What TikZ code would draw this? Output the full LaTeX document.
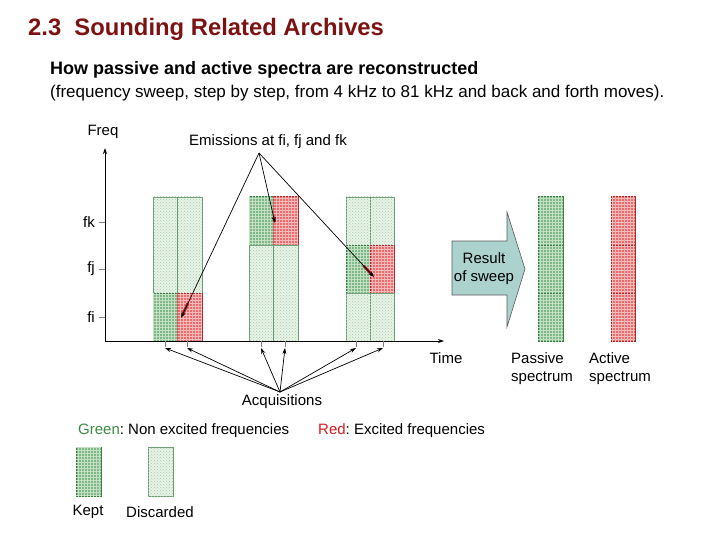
\documentclass[tikz,border=0pt]{standalone}
\usepackage{fontspec}
\setmainfont{Liberation Sans}
\usetikzlibrary{patterns,arrows.meta,calc}
\definecolor{titlered}{RGB}{125,18,18}
\definecolor{gline}{RGB}{55,125,65}
\definecolor{gkeep}{RGB}{125,185,130}
\definecolor{gdisc}{RGB}{232,244,232}
\definecolor{rkeep}{RGB}{238,105,105}
\definecolor{rline}{RGB}{170,40,40}
\definecolor{arrowfill}{RGB}{172,210,205}
\definecolor{greentxt}{RGB}{60,140,70}
\definecolor{redtxt}{RGB}{215,30,30}
\frenchspacing
\begin{document}
\begin{tikzpicture}[x=1pt,y=-1pt,
  kept/.style={fill=gkeep, postaction={pattern=grid, pattern color=white!55!gkeep}, draw=gline, line width=1pt},
  disc/.style={fill=gdisc, postaction={pattern=crosshatch dots, pattern color=gline!45}, draw=gline!75, line width=0.9pt},
  redk/.style={fill=rkeep, postaction={pattern=grid, pattern color=white!55!rkeep}, draw=rline, line width=1pt},
  lbl/.style={font=\fontsize{15}{17}\selectfont, inner sep=0pt},
  arr/.style={-{Stealth[length=6pt,width=4pt]}, line width=0.7pt},
  redmark/.style={draw=rline, line width=2.8pt}
]
\useasboundingbox (0,0) rectangle (720,540);

% titles
\node[anchor=base west, inner sep=0pt, text=titlered, font=\fontsize{23.8}{26}\selectfont\bfseries] (title) at (28,36) {2.3\ \ Sounding Related Archives};
\node[anchor=base west, inner sep=0pt, font=\fontsize{18}{20}\selectfont\bfseries] (sub) at (50,75) {How passive and active spectra are reconstructed};
\node[anchor=base west, inner sep=0pt, font=\fontsize{17}{19}\selectfont] (sub2) at (50,97.5) {(frequency sweep, step by step, from 4 kHz to 81 kHz and back and forth moves).};

% column 1 (fi excited)
\path[disc] (153,197) rectangle (177.5,293);
\path[disc] (177.5,197) rectangle (202,293);
\path[kept] (153,293) rectangle (177.5,341);
\path[redk] (177.5,293) rectangle (202,341);
% column 2 (fk excited)
\path[kept] (249,197) rectangle (273.5,245);
\path[redk] (273.5,197) rectangle (298,245);
\path[disc] (249,245) rectangle (273.5,341);
\path[disc] (273.5,245) rectangle (298,341);
% column 3 (fj excited)
\path[disc] (346,197) rectangle (370,245);
\path[disc] (370,197) rectangle (394,245);
\path[kept] (346,245) rectangle (370,293);
\path[redk] (370,245) rectangle (394,293);
\path[disc] (346,293) rectangle (370,341);
\path[disc] (370,293) rectangle (394,341);

% axes
\coordinate (origin) at (105,341);
\coordinate (ytop) at (105,148);
\coordinate (xend) at (444,341);
\draw[-{Stealth[length=6pt,width=4pt]}, line width=0.9pt] (origin) -- (ytop);
\draw[-{Stealth[length=6pt,width=4pt]}, line width=0.9pt] (origin) -- (xend);
\node[lbl] (freq) at (103,132) {Freq};
\node[lbl] (time) at (446,358) {Time};
\foreach \y/\t in {222/fk,269/fj,317/fi}{
  \draw[line width=0.6pt, gray] (99,\y) -- (105,\y);
  \node[lbl, anchor=east] (lab\t) at (95,\y) {\t};
}

% time ticks
\foreach \x [count=\i] in {165,187,261,285,356,383}{
  \coordinate (t\i) at (\x,347);
  \draw[line width=0.6pt, gray] (\x,341) -- (t\i);
}

% emissions
\node[lbl] (emis) at (268,142) {Emissions at fi, fj and fk};
\coordinate (E) at (259,153);
\coordinate (e1) at (181,318);
\coordinate (e2) at (275,223);
\coordinate (e3) at (374,277);
\foreach \e in {e1,e2,e3}{
  \draw[redmark] ($(E)!0.91!(\e)$) -- ($(E)!0.985!(\e)$);
  \draw[arr] (E) -- (\e);
}

% acquisitions
\node[lbl] (acq) at (282,402) {Acquisitions};
\coordinate (A) at (280,392);
\foreach \i in {1,...,6}{
  \draw[arr] (A) -- ($(t\i)+(0,1)$);
}

% result arrow
\draw[fill=arrowfill, draw=gray!70!black, line width=0.6pt]
  (452,241) -- (507,241) -- (507,212) -- (525,269) -- (507,327) -- (507,295) -- (452,295) -- cycle;
\node[lbl, align=center, font=\fontsize{15}{18}\selectfont] (res) at (484,269) {Result\\of sweep};

% spectra
\path[kept] (538,197) rectangle (563,245);
\path[kept] (538,245) rectangle (563,293);
\path[kept] (538,293) rectangle (563,341);
\path[redk] (611,197) rectangle (635,245);
\path[redk] (611,245) rectangle (635,293);
\path[redk] (611,293) rectangle (635,341);
\node[lbl, anchor=north west, align=left, font=\fontsize{15}{18}\selectfont] (pas) at (511,352) {Passive\\spectrum};
\node[lbl, anchor=north west, align=left, font=\fontsize{15}{18}\selectfont] (act) at (589,352) {Active\\spectrum};

% legend
\node[lbl, anchor=west] (lg) at (78,431) {\textcolor{greentxt}{Green}: Non excited frequencies};
\node[lbl, anchor=west] (lr) at (318,431) {\textcolor{redtxt}{Red}: Excited frequencies};
\path[kept] (76,447) rectangle (101,496);
\path[disc] (148,447) rectangle (173,496);
\node[lbl] (kept) at (88,512) {Kept};
\node[lbl] (discd) at (160,512) {Discarded};
\end{tikzpicture}
\end{document}
